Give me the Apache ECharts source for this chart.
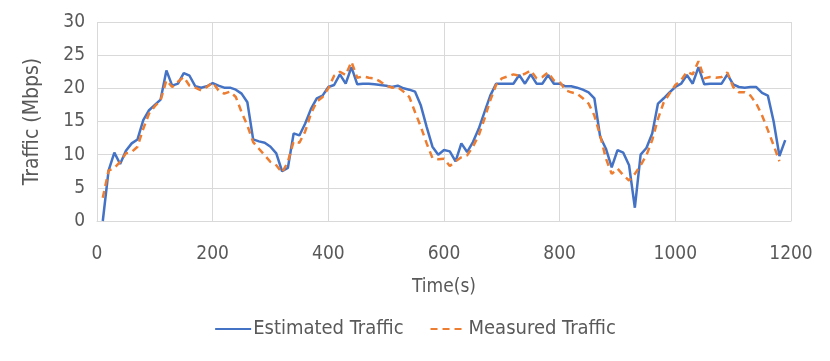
<!DOCTYPE html>
<html>
<head>
    <meta charset="utf-8">
    <title>Traffic</title>
    <script src="https://cdn.jsdelivr.net/npm/echarts@6/dist/echarts.min.js"></script>
    <style>
        html, body { margin: 0; padding: 0; background: #fff; }
    </style>
</head>
<body>
    <div id="main" style="width: 830px;height:361px;"></div>
    <script type="text/javascript">
        // time stamps (s), one sample every 10 s
        var times = [];
        for (var t = 10; t <= 1190; t += 10) times.push(t);

        var estimated = [
            0, 7.6, 10.3, 8.6, 10.6, 11.7, 12.3, 15.2, 16.7, 17.5,
            18.3, 22.7, 20.4, 20.7, 22.3, 21.9, 20.3, 20.1, 20.3, 20.8,
            20.4, 20.1, 20.1, 19.8, 19.2, 17.9, 12.3, 12.0, 11.8, 11.2,
            10.2, 7.5, 8.0, 13.2, 12.9, 14.7, 16.9, 18.5, 18.9, 20.2,
            20.5, 22.1, 20.7, 23.2, 20.6, 20.7, 20.7, 20.6, 20.5, 20.4,
            20.2, 20.4, 20.0, 19.8, 19.5, 17.4, 14.2, 11.2, 10.0, 10.7,
            10.5, 9.0, 11.7, 10.4, 11.9, 13.9, 16.4, 18.9, 20.7, 20.7,
            20.7, 20.7, 22.0, 20.7, 22.1, 20.7, 20.7, 22.0, 20.7, 20.7,
            20.3, 20.3, 20.1, 19.8, 19.4, 18.5, 12.7, 10.9, 8.1, 10.7,
            10.3, 8.4, 2.0, 10.0, 11.0, 13.2, 17.7, 18.5, 19.4, 20.2,
            20.7, 22.0, 20.7, 23.2, 20.6, 20.7, 20.7, 20.7, 22.1, 20.6,
            20.2, 20.1, 20.2, 20.2, 19.3, 18.9, 15.0, 9.8, 12.2
        ];

        var measured = [
            3.5, 7.6, 8.0, 8.9, 10.2, 10.4, 11.2, 13.9, 16.2, 17.3,
            18.2, 21.2, 20.2, 21.0, 21.7, 20.4, 20.1, 19.7, 20.2, 20.9,
            19.7, 19.2, 19.5, 18.7, 16.4, 14.4, 11.9, 10.9, 9.9, 8.9,
            8.4, 7.3, 8.9, 12.0, 11.8, 13.5, 16.2, 18.0, 18.7, 20.0,
            21.9, 22.5, 22.0, 24.0, 21.6, 21.8, 21.6, 21.5, 21.0, 20.4,
            20.1, 20.2, 19.5, 18.7, 16.4, 14.2, 11.7, 9.5, 9.3, 9.4,
            8.3, 9.0, 9.6, 9.9, 11.2, 12.9, 15.4, 18.2, 20.5, 21.5,
            21.8, 22.1, 21.9, 22.2, 22.7, 21.5, 21.7, 22.4, 21.2, 21.0,
            19.7, 19.4, 19.2, 18.5, 17.7, 15.9, 12.9, 9.4, 7.1, 7.9,
            6.9, 6.1, 7.1, 8.4, 9.9, 12.2, 15.4, 17.9, 19.2, 20.5,
            21.2, 22.5, 22.1, 24.1, 21.5, 21.7, 21.6, 21.7, 22.4, 20.2,
            19.4, 19.4, 18.9, 17.7, 15.9, 13.7, 11.4, 9.0, null
        ];

        var seriesNames = ['Estimated Traffic', 'Measured Traffic'];

        function pairs(vals) {
            return times.map(function (t, i) { return [t, vals[i]]; });
        }

        var font = "'Liberation Sans Narrow', 'DejaVu Sans Condensed', sans-serif";
        var textColor = '#595959';

        var myChart = echarts.init(document.getElementById('main'));

        var option = {
            animation: false,
            textStyle: { fontFamily: font },
            grid: { left: 97, right: 39, top: 22, bottom: 140 },
            legend: {
                bottom: 17,
                left: 'center',
                itemWidth: 36,
                itemHeight: 10,
                itemGap: 26,
                itemStyle: { opacity: 0 },
                textStyle: { fontFamily: font, fontSize: 20, color: textColor, padding: [0, 0, 0, -3] },
                data: seriesNames
            },
            xAxis: {
                type: 'value',
                min: 0,
                max: 1200,
                interval: 200,
                name: 'Time(s)',
                nameLocation: 'middle',
                nameGap: 57,
                nameTextStyle: { fontFamily: font, fontSize: 19, color: textColor },
                axisLine: { show: true, lineStyle: { color: '#d9d9d9', width: 1 } },
                axisTick: { show: false },
                axisLabel: {
                    fontFamily: font, fontSize: 19, color: textColor, margin: 24,
                    formatter: function (v) { return String(v); }
                },
                splitLine: { show: true, lineStyle: { color: '#d9d9d9', width: 1 } }
            },
            yAxis: {
                type: 'value',
                min: 0,
                max: 30,
                interval: 5,
                name: 'Traffic (Mbps)',
                nameLocation: 'middle',
                nameGap: 54,
                nameTextStyle: { fontFamily: font, fontSize: 21, color: textColor },
                axisLine: { show: false },
                axisTick: { show: false },
                axisLabel: { fontFamily: font, fontSize: 19, color: textColor, margin: 12 },
                splitLine: { show: true, lineStyle: { color: '#d9d9d9', width: 1 } }
            },
            series: [
                {
                    name: seriesNames[0],
                    type: 'line',
                    symbol: 'none',
                    data: pairs(estimated),
                    lineStyle: { color: '#4472C4', width: 2.5 },
                    itemStyle: { color: '#4472C4' },
                    z: 2
                },
                {
                    name: seriesNames[1],
                    type: 'line',
                    symbol: 'none',
                    data: pairs(measured),
                    lineStyle: { color: '#ED7D31', width: 2.5, type: [7, 5] },
                    itemStyle: { color: '#ED7D31' },
                    z: 3
                }
            ]
        };

        myChart.setOption(option);
    </script>
</body>
</html>
